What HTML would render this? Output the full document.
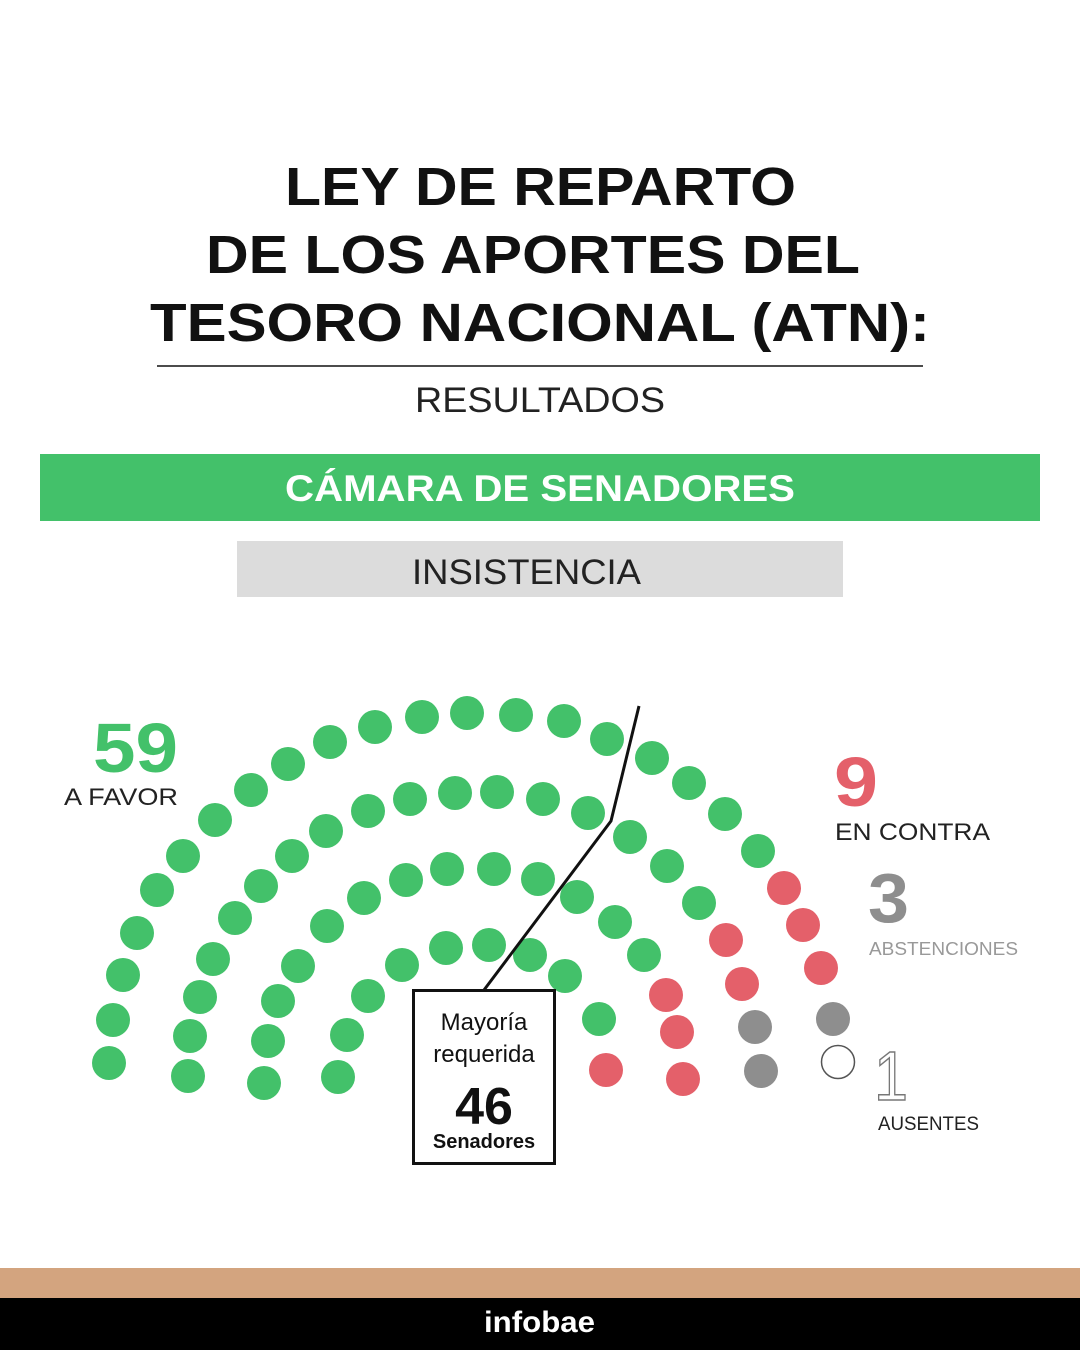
<!DOCTYPE html>
<html><head><meta charset="utf-8"><style>
body{margin:0;width:1080px;height:1350px;background:#fff;overflow:hidden;font-family:"Liberation Sans",sans-serif}
</style></head><body>
<svg width="1080" height="1350" viewBox="0 0 1080 1350" xmlns="http://www.w3.org/2000/svg" font-family="Liberation Sans, sans-serif">
<g font-weight="bold" font-size="54" fill="#111">
<text x="285" y="205" textLength="511" lengthAdjust="spacingAndGlyphs">LEY DE REPARTO</text>
<text x="206" y="273" textLength="654" lengthAdjust="spacingAndGlyphs">DE LOS APORTES DEL</text>
<text x="150" y="341" textLength="780" lengthAdjust="spacingAndGlyphs">TESORO NACIONAL (ATN):</text>
</g>
<line x1="157" y1="366" x2="923" y2="366" stroke="#111" stroke-width="1.5"/>
<text x="415" y="412" font-size="35" fill="#222" textLength="250" lengthAdjust="spacingAndGlyphs">RESULTADOS</text>
<rect x="40" y="454" width="1000" height="67" fill="#43c16a"/>
<text x="285" y="501" font-size="37" font-weight="bold" fill="#fff" textLength="510" lengthAdjust="spacingAndGlyphs">CÁMARA DE SENADORES</text>
<rect x="237" y="541" width="606" height="56" fill="#dcdcdc"/>
<text x="412" y="584" font-size="35" fill="#222" textLength="229" lengthAdjust="spacingAndGlyphs">INSISTENCIA</text>

<g fill="#43c16a">
<circle cx="109" cy="1063" r="17"/><circle cx="113" cy="1020" r="17"/><circle cx="123" cy="975" r="17"/><circle cx="137" cy="933" r="17"/><circle cx="157" cy="890" r="17"/><circle cx="183" cy="856" r="17"/><circle cx="215" cy="820" r="17"/><circle cx="251" cy="790" r="17"/><circle cx="288" cy="764" r="17"/><circle cx="330" cy="742" r="17"/><circle cx="375" cy="727" r="17"/><circle cx="422" cy="717" r="17"/><circle cx="467" cy="713" r="17"/><circle cx="516" cy="715" r="17"/><circle cx="564" cy="721" r="17"/><circle cx="607" cy="739" r="17"/><circle cx="652" cy="758" r="17"/><circle cx="689" cy="783" r="17"/><circle cx="725" cy="814" r="17"/><circle cx="758" cy="851" r="17"/>
<circle cx="188" cy="1076" r="17"/><circle cx="190" cy="1036" r="17"/><circle cx="200" cy="997" r="17"/><circle cx="213" cy="959" r="17"/><circle cx="235" cy="918" r="17"/><circle cx="261" cy="886" r="17"/><circle cx="292" cy="856" r="17"/><circle cx="326" cy="831" r="17"/><circle cx="368" cy="811" r="17"/><circle cx="410" cy="799" r="17"/><circle cx="455" cy="793" r="17"/><circle cx="497" cy="792" r="17"/><circle cx="543" cy="799" r="17"/><circle cx="588" cy="813" r="17"/><circle cx="630" cy="837" r="17"/><circle cx="667" cy="866" r="17"/><circle cx="699" cy="903" r="17"/>
<circle cx="264" cy="1083" r="17"/><circle cx="268" cy="1041" r="17"/><circle cx="278" cy="1001" r="17"/><circle cx="298" cy="966" r="17"/><circle cx="327" cy="926" r="17"/><circle cx="364" cy="898" r="17"/><circle cx="406" cy="880" r="17"/><circle cx="447" cy="869" r="17"/><circle cx="494" cy="869" r="17"/><circle cx="538" cy="879" r="17"/><circle cx="577" cy="897" r="17"/><circle cx="615" cy="922" r="17"/><circle cx="644" cy="955" r="17"/>
<circle cx="338" cy="1077" r="17"/><circle cx="347" cy="1035" r="17"/><circle cx="368" cy="996" r="17"/><circle cx="402" cy="965" r="17"/><circle cx="446" cy="948" r="17"/><circle cx="489" cy="945" r="17"/><circle cx="530" cy="955" r="17"/><circle cx="565" cy="976" r="17"/><circle cx="599" cy="1019" r="17"/>
</g>
<g fill="#e4606a">
<circle cx="784" cy="888" r="17"/><circle cx="803" cy="925" r="17"/><circle cx="821" cy="968" r="17"/>
<circle cx="726" cy="940" r="17"/><circle cx="742" cy="984" r="17"/>
<circle cx="666" cy="995" r="17"/><circle cx="677" cy="1032" r="17"/><circle cx="683" cy="1079" r="17"/>
<circle cx="606" cy="1070" r="17"/>
</g>
<g fill="#8e8e8e">
<circle cx="833" cy="1019" r="17"/><circle cx="755" cy="1027" r="17"/><circle cx="761" cy="1071" r="17"/>
</g>
<circle cx="838" cy="1062" r="16.5" fill="none" stroke="#555" stroke-width="1.5"/>

<polyline points="639,706 611,821 484,990" fill="none" stroke="#111" stroke-width="3"/>
<rect x="413.5" y="990.5" width="141" height="173" fill="#fff" stroke="#111" stroke-width="3"/>
<g text-anchor="middle" fill="#111">
<text x="484" y="1030" font-size="24">Mayoría</text>
<text x="484" y="1062" font-size="24">requerida</text>
<text x="484" y="1124" font-size="52" font-weight="bold">46</text>
<text x="484" y="1148" font-size="20" font-weight="bold">Senadores</text>
</g>

<text x="93" y="772" font-size="70" font-weight="bold" fill="#43c16a" textLength="85" lengthAdjust="spacingAndGlyphs">59</text>
<text x="64" y="805" font-size="24" fill="#222" textLength="114" lengthAdjust="spacingAndGlyphs">A FAVOR</text>
<text x="834" y="806" font-size="70" font-weight="bold" fill="#e4606a" textLength="44" lengthAdjust="spacingAndGlyphs">9</text>
<text x="835" y="840" font-size="24" fill="#222" textLength="155" lengthAdjust="spacingAndGlyphs">EN CONTRA</text>
<text x="868" y="922" font-size="70" font-weight="bold" fill="#8e8e8e" textLength="41" lengthAdjust="spacingAndGlyphs">3</text>
<text x="869" y="955" font-size="18" fill="#999" textLength="149" lengthAdjust="spacingAndGlyphs">ABSTENCIONES</text>
<text x="874" y="1100" font-size="70" fill="#fff" stroke="#777" stroke-width="1.5" textLength="34" lengthAdjust="spacingAndGlyphs">1</text>
<text x="878" y="1130" font-size="19" fill="#222" textLength="101" lengthAdjust="spacingAndGlyphs">AUSENTES</text>

<rect x="0" y="1268" width="1080" height="30" fill="#d3a47f"/>
<rect x="0" y="1298" width="1080" height="52" fill="#000"/>
<text x="484" y="1332" font-size="30" font-weight="bold" fill="#fff" textLength="111" lengthAdjust="spacingAndGlyphs">infobae</text>
</svg>
</body></html>
